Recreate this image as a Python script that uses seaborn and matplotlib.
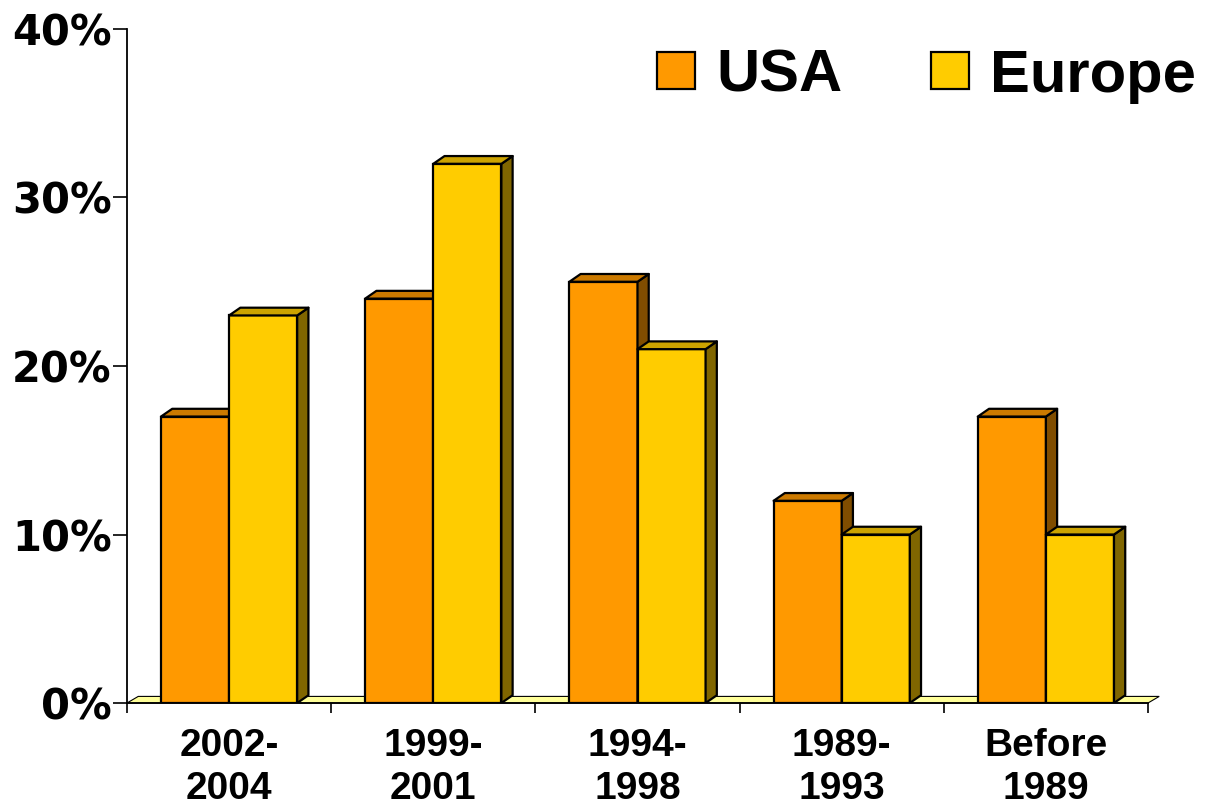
import matplotlib
matplotlib.use("Agg")
import matplotlib.pyplot as plt
import matplotlib.colors as mcolors
from matplotlib.patches import Polygon
from matplotlib.ticker import FuncFormatter, FixedLocator
import numpy as np
import pandas as pd
import seaborn as sns

# Share of companies by founding period
periods = ["2002-\n2004", "1999-\n2001", "1994-\n1998", "1989-\n1993", "Before\n1989"]
usa = [17, 24, 25, 12, 17]
europe = [23, 32, 21, 10, 10]
regions = ["USA", "Europe"]
colors = {"USA": "#FF9900", "Europe": "#FFCC00"}
y_ticks = [0, 10, 20, 30, 40]

df = pd.DataFrame({
    "period": periods * 2,
    "region": ["USA"] * len(periods) + ["Europe"] * len(periods),
    "share": usa + europe,
})

sns.set_style("white", {"text.color": "black", "xtick.color": "black",
                        "ytick.color": "black", "axes.edgecolor": "black"})
plt.rcParams["font.family"] = ["Liberation Sans", "DejaVu Sans"]
plt.rcParams["text.color"] = "black"

fig = plt.figure(figsize=(12.09, 8.06), dpi=100)
ax = fig.add_axes([127 / 1209, 103 / 806, (1148 - 127) / 1209, (703 - 29) / 806])

sns.barplot(data=df, x="period", y="share", hue="region", hue_order=regions,
            order=periods, palette=colors, width=0.667, edgecolor="black",
            linewidth=1.6, saturation=1, ax=ax, errorbar=None)

ax.set_xlim(-0.5, len(periods) - 0.5)
ax.set_ylim(0, 40)

# depth of the pseudo-3D extrusion, in data units
dx, dy = 0.055, 0.46


def shade(color, f):
    r, g, b = mcolors.to_rgb(color)
    return (r * f, g * f, b * f)


# floor plate
floor = Polygon([(-0.5, 0), (len(periods) - 0.5, 0),
                 (len(periods) - 0.5 + dx, dy * 0.85), (-0.5 + dx, dy * 0.85)],
                closed=True, facecolor="#FFFF99", edgecolor="black",
                linewidth=0.8, zorder=1, clip_on=False)
ax.add_patch(floor)

bars = [p for p in ax.patches if p is not floor and p.get_height() > 0]
bars.sort(key=lambda p: p.get_x())
for i, p in enumerate(bars):
    x0, w, h = p.get_x(), p.get_width(), p.get_height()
    x1 = x0 + w
    fc = p.get_facecolor()
    z = 2 + i * 0.1
    p.set_zorder(z)
    top = Polygon([(x0, h), (x1, h), (x1 + dx, h + dy), (x0 + dx, h + dy)],
                  closed=True, facecolor=shade(fc, 0.8), edgecolor="black",
                  linewidth=1.6, zorder=z + 0.01, joinstyle="round")
    side = Polygon([(x1, 0), (x1, h), (x1 + dx, h + dy), (x1 + dx, dy)],
                   closed=True, facecolor=shade(fc, 0.5), edgecolor="black",
                   linewidth=1.6, zorder=z + 0.01, joinstyle="round")
    ax.add_patch(side)
    ax.add_patch(top)

# axes and ticks
for s in ["top", "right"]:
    ax.spines[s].set_visible(False)
for s in ["left", "bottom"]:
    ax.spines[s].set_color("black")
    ax.spines[s].set_linewidth(1.3)
    ax.spines[s].set_zorder(10)

ax.set_yticks(y_ticks)
ax.yaxis.set_major_formatter(FuncFormatter(lambda v, _: f"{v:.0f}%"))
ax.tick_params(axis="y", direction="out", length=10, width=1.2, pad=1,
               left=True, color="black", labelcolor="black")
for lbl in ax.get_yticklabels():
    lbl.set_fontfamily("DejaVu Sans")
    lbl.set_fontweight("bold")
    lbl.set_fontsize(30)

# category labels centred, boundary ticks
ax.xaxis.set_major_locator(FixedLocator(np.arange(len(periods))))
ax.set_xticklabels(periods, fontsize=28, fontweight="bold", linespacing=1.25)
ax.tick_params(axis="x", which="major", length=0, pad=18, labelcolor="black")
ax.xaxis.set_minor_locator(FixedLocator(np.arange(len(periods) + 1) - 0.5))
ax.tick_params(axis="x", which="minor", direction="out", length=7.5,
               width=1.2, color="black", bottom=True)

ax.set_xlabel("")
ax.set_ylabel("")

# legend
handles, labels = ax.get_legend_handles_labels()
leg = ax.legend(handles, labels, loc="center left",
                bbox_to_anchor=(657 / 1209, 1 - 76 / 806),
                bbox_transform=fig.transFigure, ncol=2, frameon=False,
                prop={"family": "Liberation Sans", "weight": "bold", "size": 43},
                handlelength=0.64, handleheight=0.57, handletextpad=0.35,
                columnspacing=1.49, borderpad=0, borderaxespad=0)
for t in leg.get_texts():
    t.set_color("black")

fig.savefig("out.png", dpi=100)
